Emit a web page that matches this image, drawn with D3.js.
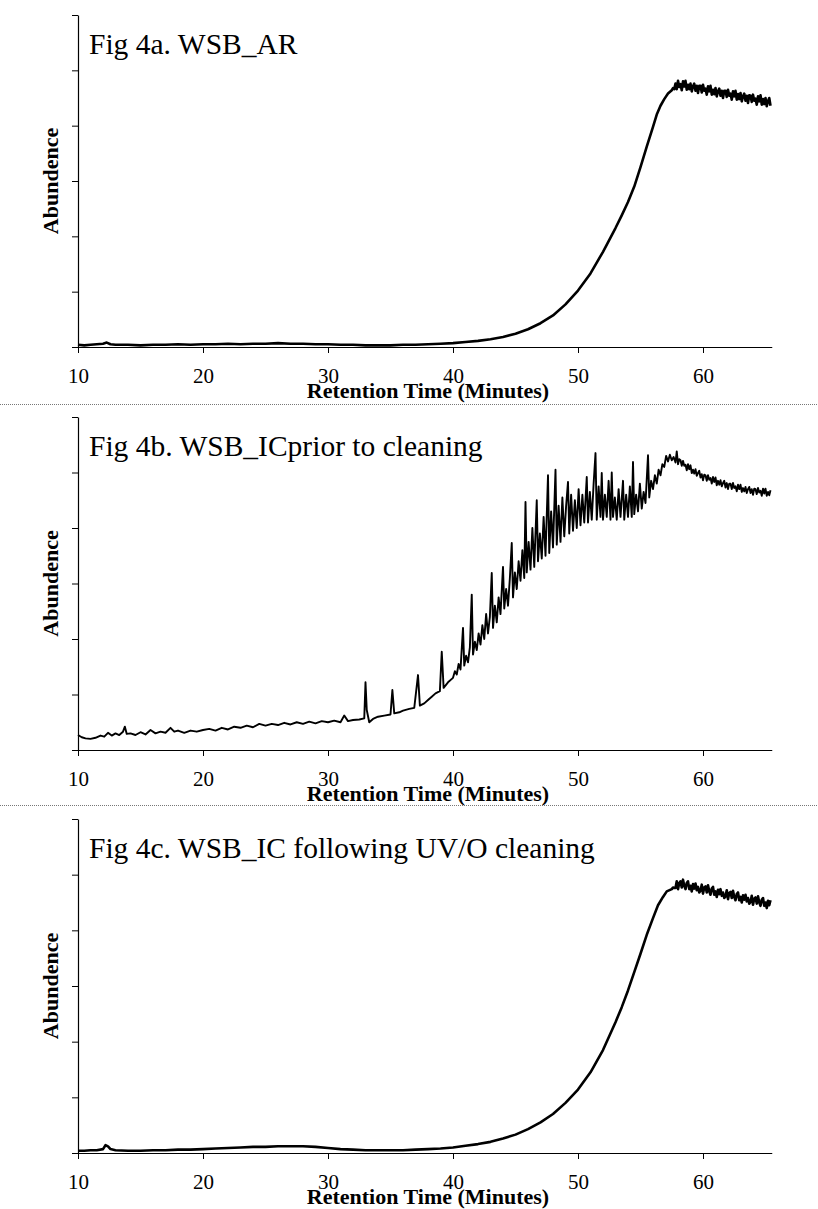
<!DOCTYPE html>
<html>
<head>
<meta charset="utf-8">
<script src="https://cdn.jsdelivr.net/npm/d3@7"></script>
<style>
  html, body { margin: 0; padding: 0; background: #fff; }
  svg { display: block; }
</style>
</head>
<body>
<svg id="chart" width="818" height="1209"></svg>
<script>
// Panel titles
const panelTitles = [
  "Fig 4a. WSB_AR",
  "Fig 4b. WSB_ICprior to cleaning",
  "Fig 4c. WSB_IC following UV/O cleaning"
];
const xTitle = "Retention Time (Minutes)";
const yTitle = "Abundence";

// Axis ticks
const xTicks = [10, 20, 30, 40, 50, 60];
const yTicks = [0, 1, 2, 3, 4, 5, 6];

// Traces: [retention time (min), abundance (relative units)]
const traceA = [
  [10,0.04],[10.5,0.03],[11,0.04],[11.5,0.05],[12,0.06],[12.3,0.08],[12.6,0.05],[13,0.04],[14,0.04],
  [15,0.03],[16,0.04],[17,0.04],[18,0.05],[19,0.04],[20,0.05],[21,0.05],[22,0.06],[23,0.05],[24,0.06],
  [25,0.06],[26,0.07],[27,0.06],[28,0.06],[29,0.05],[30,0.05],[31,0.04],[32,0.04],[33,0.03],[34,0.03],
  [35,0.03],[36,0.04],[37,0.04],[38,0.05],[39,0.06],[40,0.07],[41,0.09],[42,0.11],[43,0.14],[44,0.18],
  [45,0.24],[46,0.32],[47,0.43],[48,0.57],[49,0.77],[50,1.02],[51,1.33],[52,1.72],[53,2.15],[53.5,2.38],
  [54,2.62],[54.5,2.9],[55,3.25],[55.5,3.62],[56,3.98],[56.3,4.2],[56.6,4.36],[56.9,4.48],[57.2,4.58],
  [57.5,4.64],[57.6,4.68],[57.7,4.66],[57.8,4.76],[57.9,4.66],[58.0,4.81],[58.1,4.70],[58.2,4.75],
  [58.3,4.64],[58.4,4.80],[58.5,4.71],[58.6,4.81],[58.7,4.65],[58.8,4.74],[58.9,4.66],[59.0,4.76],
  [59.1,4.62],[59.2,4.71],[59.3,4.76],[59.4,4.63],[59.5,4.72],[59.6,4.59],[59.7,4.72],[59.8,4.72],
  [59.9,4.60],[60.0,4.74],[60.1,4.63],[60.2,4.67],[60.3,4.56],[60.4,4.71],[60.5,4.62],[60.6,4.72],
  [60.7,4.56],[60.8,4.65],[60.9,4.57],[61.0,4.68],[61.1,4.53],[61.2,4.62],[61.3,4.67],[61.4,4.54],
  [61.5,4.63],[61.6,4.50],[61.7,4.63],[61.8,4.63],[61.9,4.52],[62.0,4.65],[62.1,4.54],[62.2,4.58],
  [62.3,4.47],[62.4,4.62],[62.5,4.53],[62.6,4.63],[62.7,4.47],[62.8,4.57],[62.9,4.48],[63.0,4.59],
  [63.1,4.44],[63.2,4.53],[63.3,4.58],[63.4,4.45],[63.5,4.54],[63.6,4.41],[63.7,4.55],[63.8,4.54],
  [63.9,4.43],[64.0,4.56],[64.1,4.45],[64.2,4.49],[64.3,4.38],[64.4,4.53],[64.5,4.44],[64.6,4.55],
  [64.7,4.38],[64.8,4.48],[64.9,4.39],[65.0,4.50],[65.1,4.35],[65.2,4.44],[65.3,4.50],[65.4,4.36]
];

const traceB = [
  [10,0.27],[10.3,0.23],[10.6,0.21],[11,0.2],[11.4,0.22],[11.8,0.26],[12.1,0.24],[12.4,0.31],[12.7,0.26],
  [13,0.3],[13.3,0.27],[13.6,0.33],[13.75,0.42],[13.9,0.29],[14.2,0.3],[14.6,0.27],[15,0.32],[15.4,0.28],
  [15.8,0.36],[16.2,0.3],[16.6,0.33],[17,0.31],[17.4,0.4],[17.7,0.33],[18,0.35],[18.5,0.31],[19,0.35],
  [19.5,0.33],[20,0.36],[20.5,0.38],[21,0.35],[21.5,0.4],[22,0.37],[22.5,0.42],[23,0.4],[23.5,0.44],
  [24,0.41],[24.5,0.47],[25,0.44],[25.5,0.47],[26,0.45],[26.5,0.49],[27,0.46],[27.5,0.5],[28,0.47],
  [28.5,0.51],[29,0.48],[29.5,0.52],[30,0.5],[30.5,0.53],[31,0.5],[31.3,0.62],[31.6,0.52],[32,0.54],
  [32.5,0.55],[32.9,0.57],[33.0,1.22],[33.1,0.72],[33.3,0.5],[33.6,0.56],[34,0.6],[34.5,0.62],[35,0.64],
  [35.15,1.08],[35.3,0.66],[35.7,0.68],[36,0.71],[36.5,0.74],[36.9,0.76],[37.2,1.35],[37.35,0.8],
  [37.7,0.84],[38,0.9],[38.3,0.96],[38.6,1.02],[38.95,1.06],[39.1,1.77],[39.25,1.12],[39.6,1.22],
  [40.0,1.30],[40.15,1.42],[40.3,1.36],[40.45,1.55],[40.6,1.45],[40.8,2.20],[40.9,1.52],[41.05,1.7],
  [41.2,1.58],[41.35,1.85],[41.5,2.80],[41.6,1.72],[41.75,1.95],[41.9,1.8],[42.05,2.1],[42.2,1.9],
  [42.35,2.25],[42.5,2.0],[42.65,2.45],[42.8,2.1],[42.95,2.4],[43.1,3.19],[43.2,2.2],[43.35,2.6],
  [43.5,2.3],[43.65,2.75],[43.8,2.45],[44.0,3.30],[44.1,2.55],[44.25,2.9],[44.4,2.6],[44.55,3.1],
  [44.7,3.73],[44.8,2.75],[44.95,3.2],[45.1,2.9],[45.25,3.4],[45.4,3.05],[45.55,3.6],[45.7,3.1],
  [45.8,4.47],[45.9,3.2],[46.05,3.75],[46.2,3.25],[46.35,4.0],[46.5,3.3],[46.7,4.50],[46.8,3.4],
  [46.95,3.9],[47.1,3.45],[47.25,4.2],[47.4,3.5],[47.6,4.95],[47.7,3.55],[47.85,4.3],[48.0,3.65],
  [48.2,5.05],[48.3,3.7],[48.45,4.4],[48.6,3.75],[48.75,4.55],[48.9,3.85],[49.05,4.4],[49.2,4.83],
  [49.3,3.9],[49.45,4.6],[49.6,3.95],[49.75,4.5],[49.9,4.0],[50.05,4.7],[50.2,4.05],[50.35,4.6],
  [50.5,4.1],[50.7,4.92],[50.8,4.1],[50.95,4.65],[51.1,4.15],[51.25,4.8],[51.4,5.35],[51.5,4.15],
  [51.65,4.75],[51.8,4.2],[51.9,4.99],[52.0,4.15],[52.15,4.6],[52.3,4.2],[52.45,4.85],[52.6,4.15],
  [52.7,5.00],[52.8,4.2],[52.95,4.55],[53.1,4.15],[53.25,4.7],[53.4,4.2],[53.6,4.85],[53.7,4.15],
  [53.85,4.6],[54.0,4.2],[54.15,4.75],[54.3,4.2],[54.4,5.19],[54.5,4.25],[54.65,4.6],[54.8,4.3],
  [54.95,4.8],[55.1,4.35],[55.25,4.65],[55.4,4.45],[55.6,5.31],[55.7,4.55],[55.85,4.85],[56.0,4.7],
  [56.15,4.95],[56.3,4.8],[56.45,5.05],[56.6,4.95],[56.75,5.15],[56.9,5.1],[57.05,5.3],[57.2,5.2],
  [57.35,5.32],[57.5,5.22],[57.65,5.28],[57.8,5.18],[57.9,5.38],[58.0,5.15],[58.1,5.24],
  [58.2,5.22],[58.3,5.12],[58.4,5.21],[58.5,5.12],[58.6,5.14],[58.7,5.04],[58.8,5.15],[58.9,5.06],
  [59.0,5.13],[59.1,4.99],[59.2,5.05],[59.3,4.98],[59.4,5.06],[59.5,4.94],[59.6,4.99],[59.7,5.03],
  [59.8,4.91],[59.9,4.97],[60.0,4.86],[60.1,4.96],[60.2,4.95],[60.3,4.85],[60.4,4.95],[60.5,4.87],
  [60.6,4.90],[60.7,4.80],[60.8,4.92],[60.9,4.83],[61.0,4.91],[61.1,4.77],[61.2,4.85],[61.3,4.78],
  [61.4,4.86],[61.5,4.75],[61.6,4.81],[61.7,4.85],[61.8,4.73],[61.9,4.81],[62.0,4.70],[62.1,4.80],
  [62.2,4.80],[62.3,4.70],[62.4,4.81],[62.5,4.72],[62.6,4.75],[62.7,4.66],[62.8,4.78],[62.9,4.70],
  [63.0,4.78],[63.1,4.65],[63.2,4.72],[63.3,4.66],[63.4,4.74],[63.5,4.63],[63.6,4.70],[63.7,4.74],
  [63.8,4.63],[63.9,4.70],[64.0,4.60],[64.1,4.71],[64.2,4.70],[64.3,4.61],[64.4,4.72],[64.5,4.64],
  [64.6,4.67],[64.7,4.58],[64.8,4.71],[64.9,4.62],[65.0,4.71],[65.1,4.58],[65.2,4.65],[65.3,4.59],
  [65.4,4.68]
];

const traceC = [
  [10,0.04],[10.5,0.04],[11,0.05],[11.5,0.05],[12,0.07],[12.2,0.14],[12.4,0.12],[12.6,0.07],[13,0.05],
  [14,0.04],[15,0.04],[16,0.05],[17,0.05],[18,0.06],[19,0.06],[20,0.07],[21,0.08],[22,0.09],[23,0.1],
  [24,0.11],[25,0.11],[26,0.12],[27,0.12],[28,0.12],[29,0.11],[30,0.09],[31,0.07],[32,0.06],[33,0.05],
  [34,0.05],[35,0.05],[36,0.05],[37,0.06],[38,0.07],[39,0.08],[40,0.1],[41,0.13],[42,0.16],[43,0.2],
  [44,0.26],[45,0.33],[46,0.43],[47,0.55],[48,0.7],[49,0.9],[50,1.14],[51,1.45],[52,1.85],[53,2.35],
  [53.5,2.62],[54,2.92],[54.5,3.25],[55,3.58],[55.5,3.92],[56,4.22],[56.4,4.45],[56.8,4.6],[57.1,4.7],
  [57.5,4.74],[57.6,4.77],[57.7,4.76],[57.8,4.76],[57.9,4.88],[58.0,4.74],[58.1,4.85],[58.2,4.88],
  [58.3,4.77],[58.4,4.91],[58.5,4.80],[58.6,4.74],[58.7,4.85],[58.8,4.88],[58.9,4.74],[59.0,4.80],
  [59.1,4.70],[59.2,4.83],[59.3,4.75],[59.4,4.84],[59.5,4.72],[59.6,4.78],[59.7,4.68],[59.8,4.71],
  [59.9,4.82],[60.0,4.66],[60.1,4.77],[60.2,4.79],[60.3,4.68],[60.4,4.81],[60.5,4.70],[60.6,4.64],
  [60.7,4.75],[60.8,4.78],[60.9,4.64],[61.0,4.70],[61.1,4.60],[61.2,4.73],[61.3,4.65],[61.4,4.74],
  [61.5,4.62],[61.6,4.68],[61.7,4.58],[61.8,4.61],[61.9,4.72],[62.0,4.56],[62.1,4.67],[62.2,4.69],
  [62.3,4.58],[62.4,4.71],[62.5,4.60],[62.6,4.54],[62.7,4.65],[62.8,4.68],[62.9,4.54],[63.0,4.60],
  [63.1,4.50],[63.2,4.63],[63.3,4.55],[63.4,4.64],[63.5,4.52],[63.6,4.58],[63.7,4.48],[63.8,4.51],
  [63.9,4.62],[64.0,4.46],[64.1,4.57],[64.2,4.59],[64.3,4.48],[64.4,4.61],[64.5,4.50],[64.6,4.44],
  [64.7,4.55],[64.8,4.58],[64.9,4.44],[65.0,4.50],[65.1,4.40],[65.2,4.53],[65.3,4.45],[65.4,4.54]
];

const traces = [traceA, traceB, traceC];

// Layout of the three stacked panels
const left = 78, right = 771.75;
const panelTop = [15, 417, 819];
const panelBottom = [347, 750, 1153];
const separators = [404, 805];
const lineWidths = [2.6, 1.9, 2.6];

const svg = d3.select("#chart");
svg.append("rect").attr("width", 818).attr("height", 1209).attr("fill", "#fff");

const x = d3.scaleLinear().domain([10, 65.5]).range([left, right]);
const serif = "'Liberation Serif', 'Times New Roman', serif";

// dotted separators between panels
separators.forEach(y => {
  svg.append("line")
    .attr("x1", 0).attr("x2", 818).attr("y1", y + 0.5).attr("y2", y + 0.5)
    .attr("stroke", "#777").attr("stroke-width", 1).attr("stroke-dasharray", "1,1");
});

traces.forEach((trace, i) => {
  const top = panelTop[i], bottom = panelBottom[i];
  const y = d3.scaleLinear().domain([0, 6]).range([bottom, top]);
  const g = svg.append("g");

  // x axis
  const xAxis = d3.axisBottom(x).tickValues(xTicks).tickSize(6).tickSizeOuter(0)
    .tickFormat(d3.format("d"));
  const gx = g.append("g").attr("transform", `translate(0,${bottom})`).call(xAxis);
  gx.select(".domain").attr("stroke", "#000").attr("stroke-width", 1.2);
  gx.selectAll(".tick line").attr("stroke", "#000");
  gx.selectAll(".tick text")
    .attr("y", 36).attr("dy", null)
    .attr("font-family", serif).attr("font-size", 21).attr("fill", "#000");

  // y axis (unlabelled ticks)
  const yAxis = d3.axisLeft(y).tickValues(yTicks).tickSize(6).tickSizeOuter(0).tickFormat("");
  const gy = g.append("g").attr("transform", `translate(${left},0)`).call(yAxis);
  gy.select(".domain").attr("stroke", "#000").attr("stroke-width", 1.2);
  gy.selectAll(".tick line").attr("stroke", "#000");

  // trace
  const line = d3.line().x(d => x(d[0])).y(d => y(d[1]));
  g.append("path").datum(trace)
    .attr("d", line)
    .attr("fill", "none").attr("stroke", "#000")
    .attr("stroke-width", lineWidths[i])
    .attr("stroke-linejoin", "round");

  // panel title
  g.append("text")
    .attr("x", 89).attr("y", top + 39)
    .attr("font-family", serif).attr("font-size", 29.5).attr("fill", "#000")
    .text(panelTitles[i]);

  // axis titles
  g.append("text")
    .attr("x", 428).attr("y", bottom + 51)
    .attr("text-anchor", "middle")
    .attr("font-family", serif).attr("font-weight", "bold").attr("font-size", 22)
    .attr("fill", "#000")
    .text(xTitle);

  g.append("text")
    .attr("transform", `translate(58,${(top + bottom) / 2}) rotate(-90)`)
    .attr("text-anchor", "middle")
    .attr("font-family", serif).attr("font-weight", "bold").attr("font-size", 22)
    .attr("fill", "#000")
    .text(yTitle);
});
</script>
</body>
</html>
